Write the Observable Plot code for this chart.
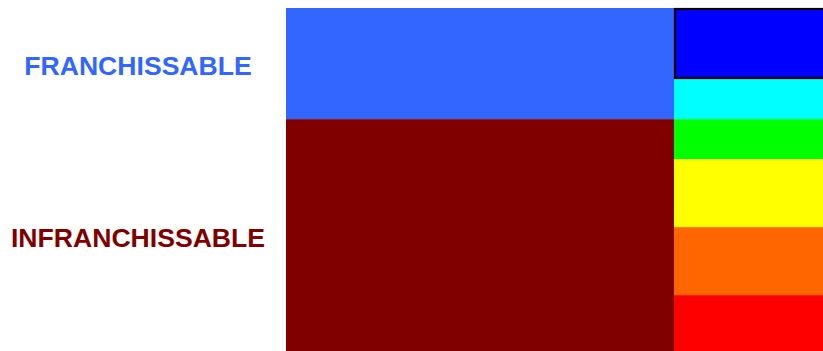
<!DOCTYPE html>
<html><head><meta charset="utf-8">
<script src="https://cdn.jsdelivr.net/npm/d3@7"></script>
<script src="https://cdn.jsdelivr.net/npm/@observablehq/plot@0.6"></script>
<style>html,body{margin:0;padding:0;background:#fff;overflow:hidden}</style>
</head><body><div id="chart"></div>
<script>
// Top-level data
const groups = ["FRANCHISSABLE", "INFRANCHISSABLE"];
const groupShares = [32.4, 67.6];
const groupColors = ["#3366ff", "#800000"];

const classNames = ["Classe 1", "Classe 2", "Classe 3", "Classe 4", "Classe 5", "Classe 6"];
const classShares = [20.7, 11.7, 11.7, 19.8, 19.8, 16.3];
const classColors = ["#0000ff", "#00ffff", "#00ff00", "#ffff00", "#ff6600", "#ff0000"];
const highlightedClass = "Classe 1";

const columns = ["Groupe", "Classe"];
const columnWeights = [72.25, 27.75];

function stack(values) {
  let acc = 0;
  return values.map(v => { const a = acc; acc += v; return [a, acc]; });
}
const colExt = stack(columnWeights);
const gStack = stack(groupShares);
const cStack = stack(classShares);

const groupData = groups.map((g, i) => ({
  name: g, x1: colExt[0][0], x2: colExt[0][1], y1: gStack[i][0], y2: gStack[i][1],
  mid: (gStack[i][0] + gStack[i][1]) / 2, color: groupColors[i]
}));
const classData = classNames.map((c, i) => ({
  name: c, x1: colExt[1][0], x2: colExt[1][1], y1: cStack[i][0], y2: cStack[i][1], color: classColors[i]
}));

const chart = Plot.plot({
  width: 823,
  height: 351,
  marginLeft: 286,
  marginRight: 0,
  marginTop: 8,
  marginBottom: 0,
  x: {domain: [0, d3.sum(columnWeights)], axis: null},
  y: {domain: [0, d3.sum(groupShares)], reverse: true, axis: null},
  color: {type: "identity"},
  marks: [
    Plot.rect(groupData, {x1: "x1", x2: "x2", y1: "y1", y2: "y2", fill: "color"}),
    Plot.rect(classData, {x1: "x1", x2: "x2", y1: "y1", y2: "y2", fill: "color"}),
    Plot.rect(classData.filter(d => d.name === highlightedClass), {
      x1: "x1", x2: "x2", y1: "y1", y2: "y2", fill: "none",
      stroke: "black", strokeWidth: 2.2, inset: 1, insetRight: -3
    }),
    Plot.text(groupData, {
      y: "mid", text: "name", fill: "color", frameAnchor: "left",
      dx: -148.5, dy: 2.5, textAnchor: "middle",
      fontSize: 26.6, fontWeight: "bold", fontFamily: "'Liberation Sans', Arial, sans-serif"
    })
  ]
});
document.getElementById("chart").appendChild(chart);
</script>
</body></html>
